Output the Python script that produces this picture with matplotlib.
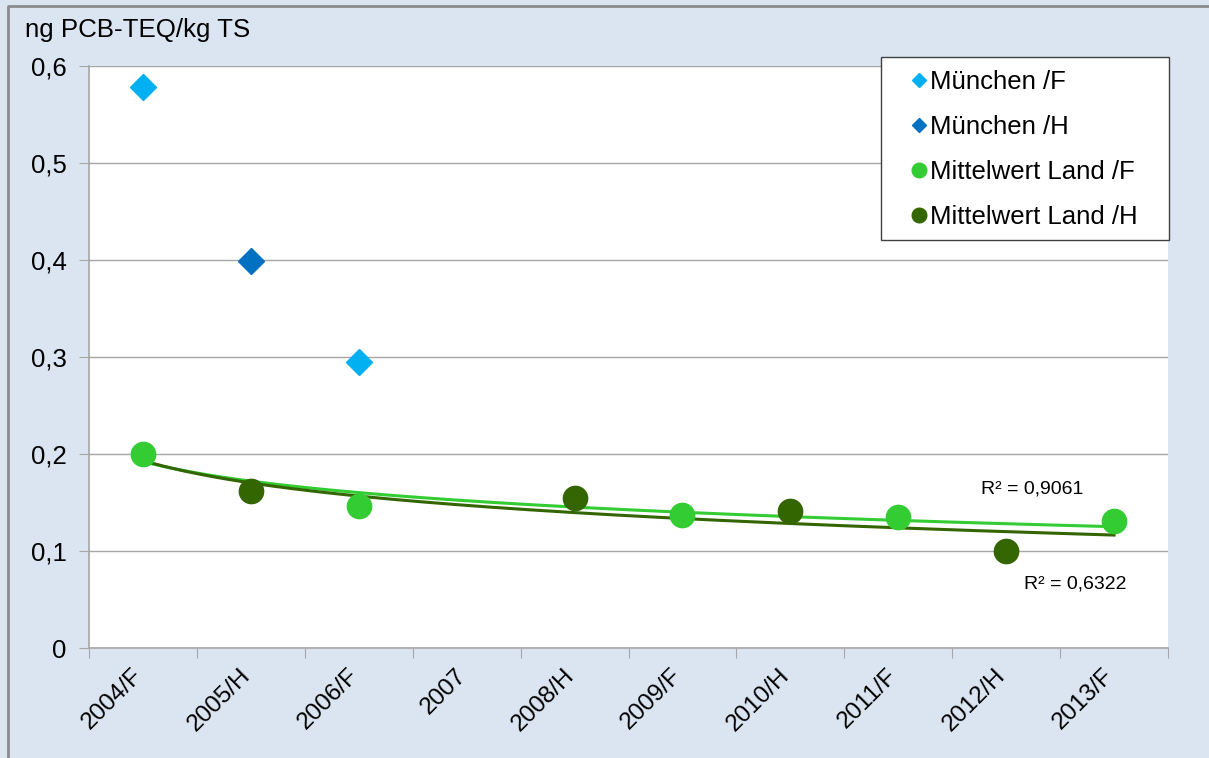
import numpy as np
import matplotlib.pyplot as plt
from matplotlib.lines import Line2D
from matplotlib.patches import Rectangle

plt.rcParams['font.family'] = ['Liberation Sans', 'DejaVu Sans']

# categories on the x axis
categories = ['2004/F', '2005/H', '2006/F', '2007', '2008/H',
              '2009/F', '2010/H', '2011/F', '2012/H', '2013/F']

# series values (category index, value)
muc_f_idx = [0, 2]
muc_f_val = [0.578, 0.295]
muc_h_idx = [1]
muc_h_val = [0.399]
land_f_idx = [0, 2, 5, 7, 9]
land_f_val = [0.200, 0.146, 0.137, 0.135, 0.131]
land_h_idx = [1, 4, 6, 8]
land_h_val = [0.162, 0.155, 0.141, 0.100]

# R² labels as printed on the chart
r2_labels = ['R² = 0,9061', 'R² = 0,6322']

c_muc_f = '#00B0F0'
c_muc_h = '#0070C0'
c_land_f = '#33CC33'
c_land_h = '#336600'
bg = '#DBE5F1'
grid_c = '#A6A6A6'

W, H = 1209, 758
fig = plt.figure(figsize=(W / 100, H / 100), dpi=100, facecolor=bg)
ax = fig.add_axes([89 / W, 1 - 648 / H, (1168 - 89) / W, (648 - 66) / H])
ax.set_facecolor('white')

# outer frame of the chart (only top and left edges are visible)
fig.lines.append(Line2D([8 / W, 8 / W, 1], [0, 1 - 5.5 / H, 1 - 5.5 / H],
                        transform=fig.transFigure, color='#8C8C8C', lw=2))


def log_fit(idx, val):
    # logarithmic trend line as Excel draws it (x = 1..n)
    x = np.array(idx) + 1.0
    slope, inter = np.polyfit(np.log(x), np.array(val), 1)
    xs = np.linspace(1, len(categories), 200)
    return xs - 1, slope * np.log(xs) + inter


# trend lines
xs, ys = log_fit(land_f_idx, land_f_val)
ax.plot(xs, ys, color=c_land_f, lw=2.2, zorder=3)
xs, ys = log_fit(land_h_idx, land_h_val)
ax.plot(xs, ys, color=c_land_h, lw=2.2, zorder=3)

# points
ax.plot(muc_f_idx, muc_f_val, 'D', color=c_muc_f, ms=13, ls='none', zorder=4, label='München /F')
ax.plot(muc_h_idx, muc_h_val, 'D', color=c_muc_h, ms=13, ls='none', zorder=4, label='München /H')
ax.plot(land_f_idx, land_f_val, 'o', color=c_land_f, ms=17.5, ls='none', zorder=4, label='Mittelwert Land /F')
ax.plot(land_h_idx, land_h_val, 'o', color=c_land_h, ms=17.5, ls='none', zorder=4, label='Mittelwert Land /H')

# R² labels
ax.text(8.24, 0.164, r2_labels[0], fontsize=14, ha='center', va='center')
ax.text(8.64, 0.066, r2_labels[1], fontsize=14, ha='center', va='center')

ax.set_xlim(-0.5, 9.5)
ax.set_ylim(0, 0.6)
yt = np.arange(0, 0.61, 0.1)
ax.set_yticks(yt)
ax.set_yticklabels([f'{v:.1f}'.replace('.', ',') if v > 0 else '0' for v in yt], fontsize=18.5)
ax.yaxis.grid(True, color=grid_c, lw=1)
ax.set_axisbelow(True)

ax.set_xticks(np.arange(-0.5, 10, 1))
ax.set_xticklabels([])
# labels sit slightly left of the category centre, like Excel does
ax.set_xticks(np.arange(10) - 0.11, minor=True)
ax.set_xticklabels(categories, minor=True, rotation=45, ha='right', va='top',
                   rotation_mode='anchor', fontsize=17.5)
ax.tick_params(axis='x', which='minor', length=0, pad=12)
ax.tick_params(axis='x', which='major', length=7, color=grid_c, direction='out')
ax.tick_params(axis='y', length=7, color=grid_c, direction='out', pad=9)

for s in ['top', 'right']:
    ax.spines[s].set_visible(False)
for s in ['left', 'bottom']:
    ax.spines[s].set_color(grid_c)
    ax.spines[s].set_linewidth(1.2)

fig.text(25 / W, 1 - 30 / H, 'ng PCB-TEQ/kg TS', fontsize=18.6, ha='left', va='center')

# legend: entries without frame, box drawn separately
box = Rectangle((881 / W, 1 - 240 / H), (1169 - 881) / W, (240 - 57) / H,
                transform=fig.transFigure, facecolor='white',
                edgecolor='#404040', linewidth=1, zorder=5, clip_on=False)
ax.add_patch(box)
leg = ax.legend(loc='upper left', bbox_to_anchor=(907 / W, 1 - 70 / H),
                bbox_transform=fig.transFigure,
                fontsize=18.5, frameon=False, borderpad=0, borderaxespad=0,
                handletextpad=0.0, handlelength=0.9, labelspacing=0.82)
for h, ms in zip(leg.legend_handles, [7.5, 7.5, 10.5, 10.5]):
    h.set_markersize(ms)
leg.set_zorder(6)

fig.savefig('out.png', dpi=100, facecolor=bg)
